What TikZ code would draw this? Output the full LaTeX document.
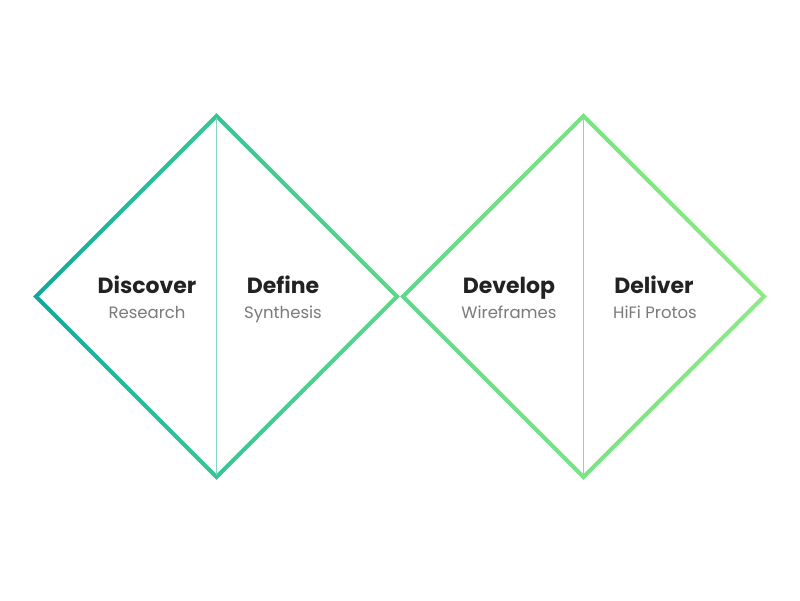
\documentclass[tikz,border=0pt]{standalone}
\usepackage{fontspec}
\setmainfont{Poppins}
\definecolor{ca}{HTML}{10A89A}
\definecolor{cb}{HTML}{24BC9B}
\definecolor{cc}{HTML}{4CD08F}
\definecolor{cd}{HTML}{6EE085}
\definecolor{ce}{HTML}{82E882}
\definecolor{cf}{HTML}{8FEA86}
\definecolor{midline}{HTML}{86D6C8}
\definecolor{titlecol}{HTML}{222222}
\definecolor{subcol}{HTML}{7A7A7A}
\pgfdeclarehorizontalshading{ddshade}{100bp}{color(0bp)=(ca); color(25bp)=(ca); color(31.8bp)=(cb); color(43.9bp)=(cc); color(56.1bp)=(cd); color(68.2bp)=(ce); color(75bp)=(cf); color(100bp)=(cf)}
\tikzset{
  ttl/.style={font=\fontsize{22}{26}\selectfont\bfseries, text=titlecol, inner sep=0pt, anchor=base},
  sub/.style={font=\fontsize{16.5}{20}\selectfont, text=subcol, inner sep=0pt, anchor=base},
  vline/.style={draw=midline, line width=1pt}
}
\begin{document}
\begin{tikzpicture}[x=1pt,y=-1pt]
\useasboundingbox (0,0) rectangle (800,600);
\fill[white] (0,0) rectangle (800,600);
% left diamond band
\begin{scope}[even odd rule]
\clip (216.5-183.3,296.5) -- (216.5,296.5-183.3) -- (216.5+183.3,296.5) -- (216.5,296.5+183.3) -- cycle
  (216.5-177.7,296.5) -- (216.5,296.5-177.7) -- (216.5+177.7,296.5) -- (216.5,296.5+177.7) -- cycle;
\shade[shading=ddshade] (30,100) rectangle (770,500);
\end{scope}
% right diamond band
\begin{scope}[even odd rule]
\clip (583.5-183.3,296.5) -- (583.5,296.5-183.3) -- (583.5+183.3,296.5) -- (583.5,296.5+183.3) -- cycle
  (583.5-177.7,296.5) -- (583.5,296.5-177.7) -- (583.5+177.7,296.5) -- (583.5,296.5+177.7) -- cycle;
\shade[shading=ddshade] (30,100) rectangle (770,500);
\end{scope}
% middle lines
\coordinate (lt) at (216.5,118);
\coordinate (lb) at (216.5,475);
\coordinate (rt) at (583.5,118);
\coordinate (rb) at (583.5,475);
\draw[vline] (lt) -- (lb);
\draw[vline] (rt) -- (rb);
% texts
\node[ttl] (t1) at (147,293) {Discover};
\node[sub] (s1) at (147,318) {Research};
\node[ttl] (t2) at (283,293) {Define};
\node[sub] (s2) at (283,318) {Synthesis};
\node[ttl] (t3) at (509,293) {Develop};
\node[sub] (s3) at (509,318) {Wireframes};
\node[ttl] (t4) at (654,293) {Deliver};
\node[sub] (s4) at (655,318) {HiFi Protos};
\end{tikzpicture}
\end{document}
